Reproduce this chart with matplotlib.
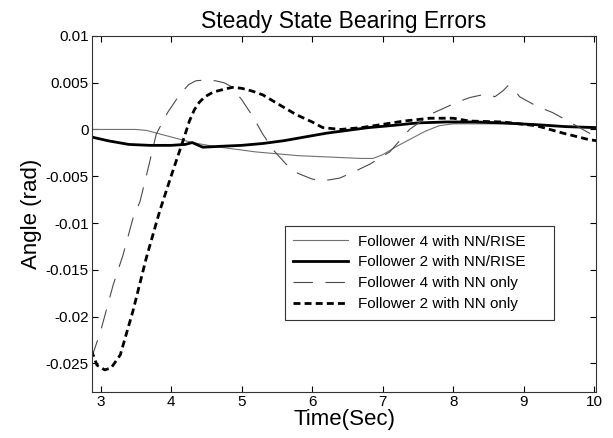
import matplotlib
matplotlib.use("Agg")
import matplotlib.pyplot as plt

plt.rcParams["font.family"] = ["Liberation Sans", "DejaVu Sans"]
plt.rcParams["lines.scale_dashes"] = False

# Follower 4 with NN/RISE (thin solid gray)
t_f4_rise = [2.87, 3.2, 3.5, 3.65, 3.8, 4.0, 4.3, 4.6, 4.9, 5.2, 5.5, 5.8, 6.1, 6.4,
             6.7, 6.86, 7.0, 7.2, 7.4, 7.6, 7.8, 8.0, 8.5, 9.0, 9.5, 10.03]
y_f4_rise = [0.0, 0.0, 0.0, -0.0001, -0.0004, -0.0008, -0.0014, -0.0018, -0.0021,
             -0.0024, -0.0026, -0.0028, -0.0029, -0.0030, -0.0031, -0.0031, -0.0027,
             -0.0018, -0.0010, -0.0002, 0.0004, 0.0006, 0.0006, 0.0006, 0.0004, 0.0001]

# Follower 2 with NN/RISE (thick solid black)
t_f2_rise = [2.87, 3.1, 3.4, 3.7, 4.0, 4.2, 4.3, 4.45, 4.7, 5.0, 5.3, 5.6, 5.9, 6.2,
             6.5, 6.8, 7.1, 7.5, 7.9, 8.3, 8.7, 9.2, 9.6, 10.03]
y_f2_rise = [-0.0008, -0.0012, -0.0016, -0.0017, -0.0017, -0.0016, -0.0014, -0.0019,
             -0.0018, -0.0017, -0.0015, -0.0012, -0.0008, -0.0004, -0.0001, 0.0002,
             0.0004, 0.0007, 0.0008, 0.0008, 0.0007, 0.0005, 0.0003, 0.0002]

# Follower 4 with NN only (thin dashed)
t_f4_nn = [2.87, 3.0, 3.18, 3.32, 3.46, 3.56, 3.68, 3.79, 3.95, 4.12, 4.25, 4.35, 4.5,
           4.63, 4.75, 4.85, 5.0, 5.15, 5.3, 5.45, 5.63, 5.8, 6.0, 6.15, 6.39, 6.6,
           6.82, 7.1, 7.38, 7.7, 8.05, 8.23, 8.47, 8.59, 8.7, 8.78, 8.87, 8.94, 9.18,
           9.41, 9.65, 9.93, 10.03]
y_f4_nn = [-0.0245, -0.0216, -0.0166, -0.0134, -0.0095, -0.0077, -0.0040, -0.0005,
           0.0018, 0.0037, 0.0048, 0.0052, 0.0053, 0.0052, 0.0050, 0.0046, 0.0032,
           0.0015, -0.0005, -0.0022, -0.0037, -0.0047, -0.0053, -0.0055, -0.0052,
           -0.0045, -0.0037, -0.0024, 0.0000, 0.0017, 0.0029, 0.0034, 0.0038, 0.0035,
           0.0041, 0.0047, 0.0042, 0.0035, 0.0025, 0.0018, 0.0008, -0.0004, -0.0007]

# Follower 2 with NN only (thick dashed)
t_f2_nn = [2.87, 2.95, 3.06, 3.15, 3.28, 3.46, 3.65, 3.84, 4.0, 4.17, 4.26, 4.33, 4.4,
           4.48, 4.6, 4.75, 4.87, 5.0, 5.15, 5.3, 5.5, 5.77, 6.0, 6.15, 6.4, 6.7, 6.96,
           7.3, 7.67, 8.0, 8.23, 8.7, 9.18, 9.56, 9.93, 10.03]
y_f2_nn = [-0.0236, -0.0252, -0.0257, -0.0255, -0.0241, -0.0194, -0.0137, -0.0087,
           -0.0050, -0.0012, 0.0009, 0.0021, 0.0029, 0.0035, 0.0040, 0.0043, 0.0045,
           0.0044, 0.0041, 0.0037, 0.0028, 0.0016, 0.0008, 0.0002, 0.0000, 0.0002,
           0.0005, 0.0009, 0.0012, 0.0012, 0.0009, 0.0008, 0.0004, -0.0004, -0.0011,
           -0.0012]

x_ticks = [3, 4, 5, 6, 7, 8, 9, 10]
y_ticks = [-0.025, -0.02, -0.015, -0.01, -0.005, 0, 0.005, 0.01]
y_tick_labels = ["-0.025", "-0.02", "-0.015", "-0.01", "-0.005", "0", "0.005", "0.01"]

fig = plt.figure(figsize=(6.13, 4.38), dpi=100)
ax = fig.add_axes([0.1496, 0.1043, 0.8234, 0.8137])

ax.plot(t_f4_rise, y_f4_rise, color="#707070", lw=0.8, label="Follower 4 with NN/RISE")
ax.plot(t_f2_rise, y_f2_rise, color="black", lw=2.0, label="Follower 2 with NN/RISE")
ax.plot(t_f4_nn, y_f4_nn, color="#4a4a4a", lw=0.8, dashes=(14, 9),
        label="Follower 4 with NN only")
ax.plot(t_f2_nn, y_f2_nn, color="black", lw=2.0, dashes=(5, 3),
        label="Follower 2 with NN only")

ax.set_xlim(2.875, 10.03)
ax.set_ylim(-0.0281, 0.01)
ax.set_xticks(x_ticks)
ax.set_yticks(y_ticks)
ax.set_yticklabels(y_tick_labels)
ax.tick_params(direction="in", top=True, right=True, length=4, width=0.8,
               labelsize=11, pad=2)
for s in ax.spines.values():
    s.set_linewidth(0.8)
    s.set_color("#333333")

ax.set_title("Steady State Bearing Errors", fontsize=16.5, pad=6)
ax.set_xlabel("Time(Sec)", fontsize=16, labelpad=0)
ax.set_ylabel("Angle (rad)", fontsize=16, labelpad=3)

leg = ax.legend(loc="lower left", bbox_to_anchor=(0.383, 0.204, 0.532, 0.254),
                mode="expand", borderaxespad=0, fontsize=11, handlelength=3.6,
                handletextpad=0.6, labelspacing=0.45, borderpad=0.55,
                fancybox=False, framealpha=1)
leg.get_frame().set_edgecolor("#333333")
leg.get_frame().set_linewidth(0.8)

fig.savefig("out.png", dpi=100)
